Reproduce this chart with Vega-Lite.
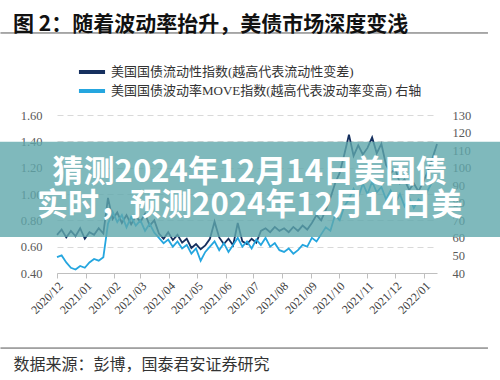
{
  "$schema": "https://vega.github.io/schema/vega-lite/v6.json",
  "width": 380,
  "height": 158,
  "autosize": {"type": "none"},
  "padding": {"left": 57, "top": 115, "right": 63, "bottom": 107},
  "background": "white",
  "title": {"text": "图 2：随着波动率抬升，美债市场深度变浅", "anchor": "start", "frame": "group", "dx": -44, "offset": -3, "font": "Noto Sans CJK SC", "fontSize": 21, "fontWeight": "bold", "color": "#111111"},
  "datasets": {
    "bond": [
      {"date": "2020/12/01", "liq": 0.69, "move": 49},
      {"date": "2020/12/06", "liq": 0.73, "move": 50},
      {"date": "2020/12/11", "liq": 0.67, "move": 46},
      {"date": "2020/12/16", "liq": 0.72, "move": 43},
      {"date": "2020/12/21", "liq": 0.68, "move": 42},
      {"date": "2020/12/26", "liq": 0.74, "move": 44},
      {"date": "2020/12/31", "liq": 0.66, "move": 43},
      {"date": "2021/01/05", "liq": 0.71, "move": 46},
      {"date": "2021/01/10", "liq": 0.69, "move": 48},
      {"date": "2021/01/15", "liq": 0.74, "move": 47},
      {"date": "2021/01/20", "liq": 0.70, "move": 49},
      {"date": "2021/01/25", "liq": 0.97, "move": 68},
      {"date": "2021/01/30", "liq": 0.81, "move": 75},
      {"date": "2021/02/04", "liq": 0.86, "move": 69},
      {"date": "2021/02/09", "liq": 0.78, "move": 73},
      {"date": "2021/02/14", "liq": 0.84, "move": 66},
      {"date": "2021/02/19", "liq": 0.77, "move": 72},
      {"date": "2021/02/24", "liq": 0.83, "move": 67},
      {"date": "2021/03/01", "liq": 0.79, "move": 70},
      {"date": "2021/03/06", "liq": 0.85, "move": 64},
      {"date": "2021/03/11", "liq": 0.76, "move": 68},
      {"date": "2021/03/16", "liq": 0.80, "move": 63},
      {"date": "2021/03/21", "liq": 0.70, "move": 60},
      {"date": "2021/03/26", "liq": 0.66, "move": 57},
      {"date": "2021/03/31", "liq": 0.71, "move": 59},
      {"date": "2021/04/05", "liq": 0.65, "move": 55},
      {"date": "2021/04/10", "liq": 0.69, "move": 58},
      {"date": "2021/04/15", "liq": 0.63, "move": 54},
      {"date": "2021/04/20", "liq": 0.66, "move": 56},
      {"date": "2021/04/25", "liq": 0.59, "move": 51},
      {"date": "2021/04/30", "liq": 0.62, "move": 54},
      {"date": "2021/05/05", "liq": 0.58, "move": 47},
      {"date": "2021/05/10", "liq": 0.61, "move": 52},
      {"date": "2021/05/15", "liq": 0.66, "move": 55},
      {"date": "2021/05/20", "liq": 0.79, "move": 58},
      {"date": "2021/05/25", "liq": 0.67, "move": 53},
      {"date": "2021/05/30", "liq": 0.62, "move": 57},
      {"date": "2021/06/04", "liq": 0.66, "move": 52},
      {"date": "2021/06/09", "liq": 0.61, "move": 56},
      {"date": "2021/06/14", "liq": 0.78, "move": 60},
      {"date": "2021/06/19", "liq": 0.64, "move": 55},
      {"date": "2021/06/24", "liq": 0.62, "move": 58},
      {"date": "2021/06/29", "liq": 0.66, "move": 54},
      {"date": "2021/07/04", "liq": 0.63, "move": 59},
      {"date": "2021/07/09", "liq": 0.72, "move": 56},
      {"date": "2021/07/14", "liq": 0.74, "move": 60},
      {"date": "2021/07/19", "liq": 0.71, "move": 55},
      {"date": "2021/07/24", "liq": 0.75, "move": 57},
      {"date": "2021/07/29", "liq": 0.72, "move": 53},
      {"date": "2021/08/03", "liq": 0.74, "move": 52},
      {"date": "2021/08/08", "liq": 0.71, "move": 54},
      {"date": "2021/08/13", "liq": 0.75, "move": 51},
      {"date": "2021/08/18", "liq": 0.72, "move": 53},
      {"date": "2021/08/23", "liq": 0.76, "move": 56},
      {"date": "2021/08/28", "liq": 0.73, "move": 55},
      {"date": "2021/09/02", "liq": 0.78, "move": 60},
      {"date": "2021/09/07", "liq": 0.84, "move": 58},
      {"date": "2021/09/12", "liq": 0.80, "move": 62},
      {"date": "2021/09/17", "liq": 0.88, "move": 66},
      {"date": "2021/09/22", "liq": 0.97, "move": 64},
      {"date": "2021/09/27", "liq": 1.08, "move": 73},
      {"date": "2021/10/02", "liq": 1.16, "move": 70},
      {"date": "2021/10/07", "liq": 1.30, "move": 78},
      {"date": "2021/10/12", "liq": 1.45, "move": 82},
      {"date": "2021/10/17", "liq": 1.29, "move": 88},
      {"date": "2021/10/22", "liq": 1.37, "move": 83},
      {"date": "2021/10/27", "liq": 1.30, "move": 91},
      {"date": "2021/11/01", "liq": 1.35, "move": 85},
      {"date": "2021/11/06", "liq": 1.43, "move": 92},
      {"date": "2021/11/11", "liq": 1.31, "move": 86},
      {"date": "2021/11/16", "liq": 1.38, "move": 89},
      {"date": "2021/11/21", "liq": 1.22, "move": 82},
      {"date": "2021/11/26", "liq": 1.16, "move": 87},
      {"date": "2021/12/01", "liq": 1.19, "move": 80},
      {"date": "2021/12/06", "liq": 1.08, "move": 85},
      {"date": "2021/12/11", "liq": 1.11, "move": 78},
      {"date": "2021/12/16", "liq": 1.03, "move": 83},
      {"date": "2021/12/21", "liq": 1.08, "move": 77},
      {"date": "2021/12/26", "liq": 1.02, "move": 82},
      {"date": "2021/12/31", "liq": 1.09, "move": 80},
      {"date": "2022/01/05", "liq": 1.17, "move": 87},
      {"date": "2022/01/10", "liq": 1.27, "move": 92},
      {"date": "2022/01/15", "liq": 1.38, "move": 96}
    ]
  },
  "data": {"name": "bond"},
  "layer": [
    {
      "mark": {"type": "line", "strokeWidth": 1.8},
      "encoding": {
        "x": {
          "field": "date", "type": "temporal",
          "scale": {"domain": [{"year": 2020, "month": 12, "date": 1}, {"year": 2022, "month": 1, "date": 15}], "nice": false},
          "axis": {
            "format": "%Y/%m", "tickCount": {"interval": "month", "step": 1}, "labelOverlap": false,
            "labelAngle": -45, "labelFont": "Liberation Serif", "labelFontSize": 12, "labelColor": "#404040",
            "domainColor": "#bfbfbf", "tickColor": "#bfbfbf", "tickSize": 5, "grid": false, "labelPadding": 2,
            "title": "数据来源：彭博，国泰君安证券研究", "titleFont": "Noto Sans CJK SC", "titleFontSize": 16, "titleFontWeight": "normal",
            "titleColor": "#333333", "titleAnchor": "start", "titleAlign": "left", "titleBaseline": "middle", "titleX": -44, "titleY": 91
          }
        },
        "y": {
          "field": "liq", "type": "quantitative",
          "scale": {"domain": [0.4, 1.6], "nice": false, "zero": false},
          "axis": {
            "orient": "left", "values": [0.4, 0.6, 0.8, 1.0, 1.2, 1.4, 1.6], "format": ".2f",
            "grid": true, "gridDash": [6, 4], "gridColor": "#d9d9d9", "domain": false, "ticks": false,
            "labelPadding": 15, "labelFont": "Liberation Serif", "labelFontSize": 12.5, "labelColor": "#595959", "title": null
          }
        },
        "color": {
          "datum": "美国国债流动性指数(越高代表流动性变差)", "type": "nominal",
          "scale": {"domain": ["美国国债流动性指数(越高代表流动性变差)", "美国国债波动率MOVE指数(越高代表波动率变高) 右轴"], "range": ["#16305f", "#25a6df"]},
          "legend": {
            "orient": "none", "legendX": 24, "legendY": -54, "direction": "vertical", "title": null,
            "symbolType": "M-1.45,0H1.45", "symbolSize": 324, "symbolStrokeWidth": 4, "labelOffset": 8,
            "labelFont": "Liberation Serif, Noto Sans CJK SC", "labelFontSize": 13, "labelColor": "#333333",
            "labelLimit": 500, "rowPadding": 0, "padding": 0
          }
        }
      }
    },
    {
      "mark": {"type": "line", "strokeWidth": 1.8},
      "encoding": {
        "x": {"field": "date", "type": "temporal", "scale": {"domain": [{"year": 2020, "month": 12, "date": 1}, {"year": 2022, "month": 1, "date": 15}], "nice": false}},
        "y": {
          "field": "move", "type": "quantitative",
          "scale": {"domain": [40, 130], "nice": false, "zero": false},
          "axis": {
            "orient": "right", "values": [40, 50, 60, 70, 80, 90, 100, 110, 120, 130],
            "grid": false, "domain": false, "ticks": false, "labelPadding": 15,
            "labelFont": "Liberation Serif", "labelFontSize": 12.5, "labelColor": "#595959", "title": null
          }
        },
        "color": {"datum": "美国国债波动率MOVE指数(越高代表波动率变高) 右轴", "type": "nominal"}
      }
    },
    {
      "data": {"values": [{}]},
      "layer": [
        {
          "mark": {"type": "rule", "color": "#555555", "strokeWidth": 1, "clip": false},
          "encoding": {
            "x": {"datum": {"year": 2020, "month": 10, "date": 1}, "type": "temporal", "scale": {"domain": [{"year": 2020, "month": 12, "date": 1}, {"year": 2022, "month": 1, "date": 15}], "nice": false}},
            "x2": {"datum": {"year": 2022, "month": 3, "date": 11}},
            "y": {"datum": 2.223, "type": "quantitative", "scale": {"domain": [0.4, 1.6], "nice": false, "zero": false}, "axis": null}
          }
        },
        {
          "mark": {"type": "rule", "color": "#555555", "strokeWidth": 1, "clip": false},
          "encoding": {
            "x": {"datum": {"year": 2020, "month": 10, "date": 1}, "type": "temporal"},
            "x2": {"datum": {"year": 2022, "month": 3, "date": 11}},
            "y": {"datum": -0.17, "type": "quantitative"}
          }
        },
        {
          "mark": {"type": "rect", "fill": "#5fa7ab", "opacity": 0.8, "clip": false},
          "encoding": {
            "x": {"datum": {"year": 2020, "month": 8, "date": 1}, "type": "temporal"},
            "x2": {"datum": {"year": 2022, "month": 5, "date": 1}},
            "y": {"datum": 1.396, "type": "quantitative"},
            "y2": {"datum": 0.674}
          }
        },
        {
          "mark": {"type": "text", "text": "猜测2024年12月14日美国债", "font": "Noto Sans CJK SC", "fontSize": 31, "fontWeight": "bold", "fill": "#ffffff", "align": "center", "baseline": "middle", "clip": false},
          "encoding": {
            "x": {"datum": {"year": 2021, "month": 6, "date": 27}, "type": "temporal"},
            "y": {"datum": 1.156, "type": "quantitative"}
          }
        },
        {
          "mark": {"type": "text", "text": "实时，预测2024年12月14日美", "font": "Noto Sans CJK SC", "fontSize": 31, "fontWeight": "bold", "fill": "#ffffff", "align": "center", "baseline": "middle", "clip": false},
          "encoding": {
            "x": {"datum": {"year": 2021, "month": 6, "date": 27}, "type": "temporal"},
            "y": {"datum": 0.909, "type": "quantitative"}
          }
        }
      ]
    }
  ],
  "resolve": {"scale": {"y": "independent"}},
  "config": {"view": {"stroke": null}}
}
